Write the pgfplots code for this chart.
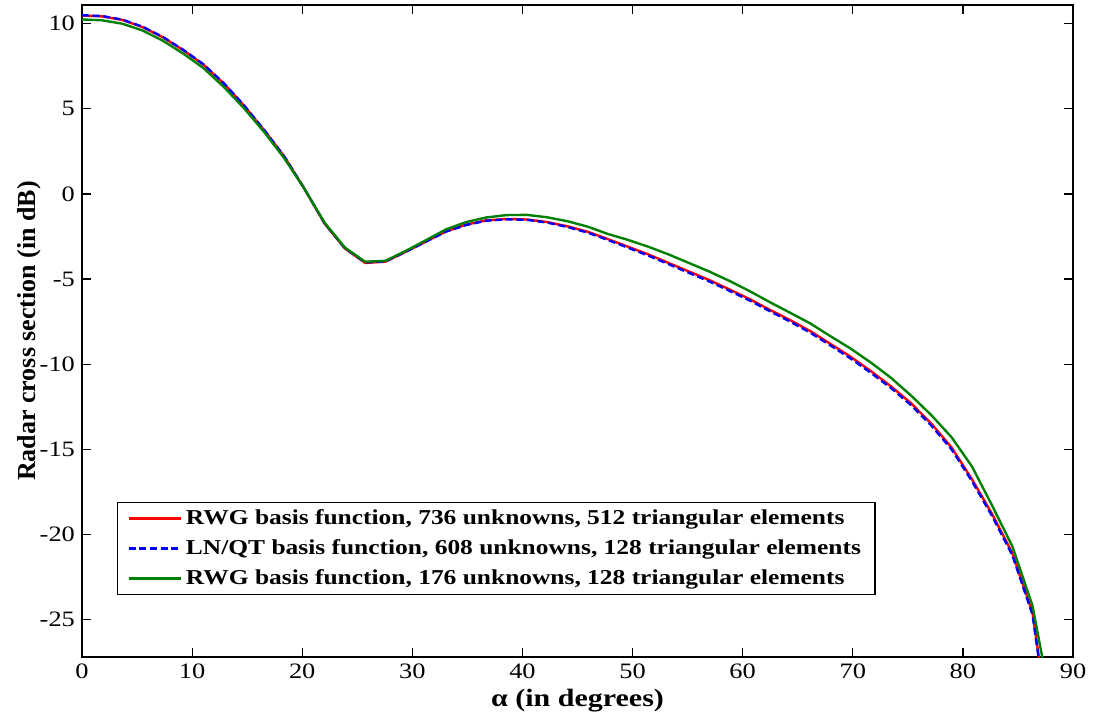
\documentclass[border=0pt]{standalone}
\usepackage{pgfplots}
\pgfplotsset{compat=1.18}
\usepackage{pgfplotstable}
\usepackage{fontspec}
\setmainfont{Liberation Serif}
\newfontfamily\wide[FakeStretch=1.2]{Liberation Serif}
\definecolor{mgreen}{RGB}{0,128,0}

\pgfplotstableread{
x      red     blue    green
0.000  10.48   10.50   10.25
1.837  10.43   10.45   10.20
3.673  10.22   10.24   10.00
5.510   9.80    9.82    9.60
7.347   9.20    9.22    9.00
9.184   8.45    8.47    8.25
11.020  7.60    7.62    7.40
12.857  6.50    6.52    6.30
14.694  5.20    5.22    5.05
16.531  3.75    3.77    3.65
18.367  2.20    2.20    2.10
20.204  0.30    0.30    0.30
22.041 -1.75   -1.73   -1.70
23.878 -3.20   -3.18   -3.15
25.714 -4.05   -4.02   -3.98
27.551 -3.98   -3.96   -3.93
29.388 -3.40   -3.40   -3.35
31.224 -2.80   -2.80   -2.72
33.061 -2.20   -2.21   -2.08
34.898 -1.80   -1.82   -1.65
36.735 -1.55   -1.57   -1.38
38.571 -1.47   -1.49   -1.24
40.408 -1.50   -1.52   -1.23
42.245 -1.65   -1.68   -1.37
44.082 -1.90   -1.94   -1.60
45.918 -2.22   -2.27   -1.92
47.755 -2.65   -2.70   -2.35
49.592 -3.10   -3.16   -2.70
51.429 -3.55   -3.62   -3.10
53.265 -4.05   -4.12   -3.55
55.102 -4.55   -4.63   -4.05
56.939 -5.05   -5.13   -4.55
58.776 -5.60   -5.68   -5.10
60.612 -6.17   -6.25   -5.70
62.449 -6.80   -6.88   -6.35
64.286 -7.40   -7.49   -6.97
66.122 -8.05   -8.14   -7.60
67.959 -8.80   -8.89   -8.35
69.796 -9.56   -9.66   -9.08
71.633 -10.40  -10.50  -9.90
73.469 -11.30  -11.40  -10.80
75.306 -12.30  -12.41  -11.85
77.143 -13.50  -13.61  -13.00
78.980 -14.90  -15.01  -14.30
80.816 -16.75  -16.86  -16.00
82.653 -18.80  -18.92  -18.30
84.490 -21.10  -21.22  -20.70
86.327 -24.60  -24.72  -24.20
88.163 -33.00  -33.20  -30.50
}\rcs

\begin{document}
\begin{tikzpicture}
\path[use as bounding box] (-41pt,-31pt) rectangle (506.5pt,328.5pt);
\begin{axis}[
  scale only axis,
  width=495.5pt, height=326pt,
  xmin=0, xmax=90, ymin=-27.2, ymax=11.1,
  xtick={0,10,...,90},
  ytick={-25,-20,...,10},
  tick align=inside,
  major tick length=4.5pt,
  minor tick num=0,
  axis line style={line width=0.7pt},
  every tick/.style={black, line width=0.6pt},
  tick label style={font=\wide\fontsize{11}{13}\selectfont},
  /pgf/number format/assume math mode=true,
  xlabel={\textbf{α (in degrees)}},
  ylabel={\textbf{Radar cross section (in dB)}},
  every axis x label/.style={at={(axis description cs:0.5,-0.067)}, anchor=center, font=\wide\fontsize{12.5}{14}\selectfont},
  every axis y label/.style={at={(axis description cs:-0.053,0.5)}, anchor=center, rotate=90, font=\fontsize{13}{15}\selectfont},
  legend style={at={(axis description cs:0.0353,0.2377)}, anchor=north west,
    draw=black, line width=0.6pt, font=\wide\fontsize{10.6}{13}\selectfont\bfseries,
    row sep=2pt, inner xsep=5pt, inner ysep=1.5pt},
  legend cell align=left,
  legend image code/.code={\draw[#1] (0pt,0pt) -- (26pt,0pt);},
]
\addplot[red, line width=1.2pt] table[x=x, y=red] {\rcs};
\addlegendentry{RWG basis function, 736 unknowns, 512 triangular elements}
\addplot[blue, line width=1.2pt, dash pattern=on 3.5pt off 1.8pt] table[x=x, y=blue] {\rcs};
\addlegendentry{LN/QT basis function, 608 unknowns, 128 triangular elements}
\addplot[mgreen, line width=1.2pt] table[x=x, y=green] {\rcs};
\addlegendentry{RWG basis function, 176 unknowns, 128 triangular elements}
\end{axis}
\end{tikzpicture}
\end{document}
